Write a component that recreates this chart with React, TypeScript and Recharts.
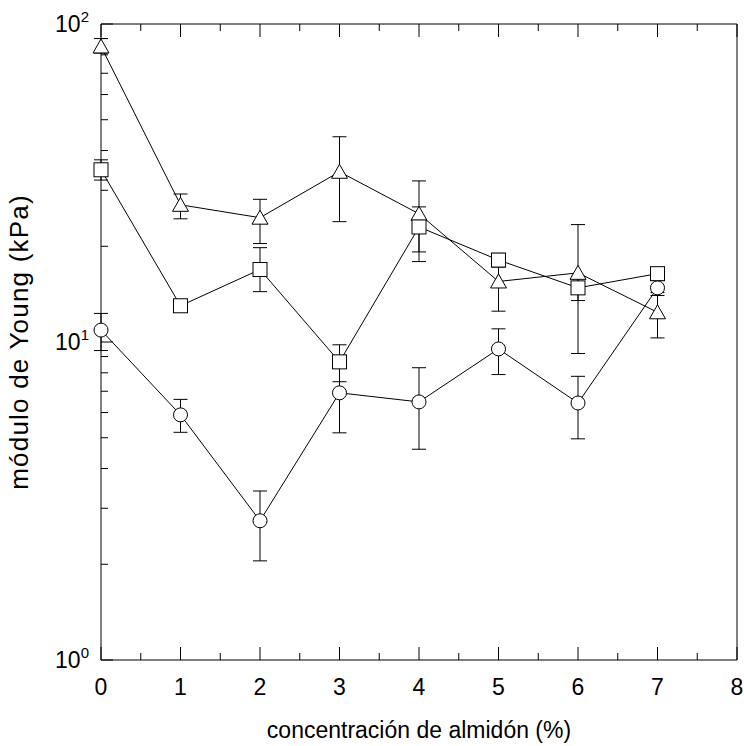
import React from 'react';
import { ComposedChart, Line, XAxis, YAxis, ErrorBar, Label } from 'recharts';

const conc = [0, 1, 2, 3, 4, 5, 6, 7];

const triVals = [85, 27, 24.6, 34.3, 25.3, 15.5, 16.5, 12.4];
const triLow = [81, 24.4, 20.4, 23.9, 19.2, 12.5, 9.2, 10.3];
const triHigh = [90, 29.2, 28.1, 44.2, 32.1, 18.5, 23.4, 14.3];

const sqVals = [34.8, 13.0, 16.9, 8.66, 23.0, 18.1, 14.8, 16.4];
const sqLow = [32.3, 12.6, 14.4, 7.5, 17.9, 17.2, 13.5, 15.9];
const sqHigh = [37.4, 13.4, 19.8, 9.8, 26.6, 19.0, 16.1, 16.9];

const cirVals = [10.9, 5.9, 2.74, 6.92, 6.48, 9.51, 6.43, 14.8];
const cirLow = [9.4, 5.2, 2.05, 5.18, 4.6, 7.9, 4.96, 14.0];
const cirHigh = [12.3, 6.6, 3.4, 8.6, 8.3, 11.0, 7.8, 15.6];

const xTicks = [0, 0.5, 1, 1.5, 2, 2.5, 3, 3.5, 4, 4.5, 5, 5.5, 6, 6.5, 7, 7.5, 8];
const yTicks = [1, 2, 3, 4, 5, 6, 7, 8, 9, 10, 20, 30, 40, 50, 60, 70, 80, 90, 100];
const yMajor: Record<number, string> = { 1: '0', 10: '1', 100: '2' };

const xTitle = 'concentración de almidón (%)';
const yTitle = 'módulo de Young (kPa)';

const data = conc.map((c, i) => ({
  conc: c,
  tri: triVals[i],
  triErr: [triVals[i] - triLow[i], triHigh[i] - triVals[i]],
  sq: sqVals[i],
  sqErr: [sqVals[i] - sqLow[i], sqHigh[i] - sqVals[i]],
  cir: cirVals[i],
  cirErr: [cirVals[i] - cirLow[i], cirHigh[i] - cirVals[i]],
}));

const FONT = '"Liberation Sans", Arial, Helvetica, sans-serif';

const BottomTick = (props: any) => {
  const { x, y, payload } = props;
  const v = payload.value;
  const major = Number.isInteger(v);
  return (
    <g>
      <line x1={x} y1={y} x2={x} y2={y - (major ? 13 : 7)} stroke="#000" strokeWidth={1} />
      {major && (
        <text x={x} y={y + 35} textAnchor="middle" fontSize={23} fontFamily={FONT} fill="#000">
          {v}
        </text>
      )}
    </g>
  );
};

const TopTick = (props: any) => {
  const { x, y, payload } = props;
  const major = Number.isInteger(payload.value);
  return <line x1={x} y1={y} x2={x} y2={y + (major ? 13 : 7)} stroke="#000" strokeWidth={1} />;
};

const LeftTick = (props: any) => {
  const { x, y, payload } = props;
  const v = payload.value;
  const exp = yMajor[v];
  return (
    <g>
      <line x1={x} y1={y} x2={x + (exp !== undefined ? 12 : 7)} y2={y} stroke="#000" strokeWidth={1} />
      {exp !== undefined && (
        <text x={x - 12} y={y + 8} textAnchor="end" fontSize={23} fontFamily={FONT} fill="#000">
          10
          <tspan dy={-10} fontSize={15}>
            {exp}
          </tspan>
        </text>
      )}
    </g>
  );
};

const RightTick = (props: any) => {
  const { x, y, payload } = props;
  const major = yMajor[payload.value] !== undefined;
  return <line x1={x} y1={y} x2={x - (major ? 12 : 7)} y2={y} stroke="#000" strokeWidth={1} />;
};

const Tri = (props: any) => {
  const { cx, cy } = props;
  if (cx == null || cy == null) return null;
  return (
    <path
      d={`M${cx},${cy - 7.5} L${cx + 8},${cy + 6.5} L${cx - 8},${cy + 6.5} Z`}
      fill="#fff"
      stroke="#000"
      strokeWidth={1}
    />
  );
};

const Sq = (props: any) => {
  const { cx, cy } = props;
  if (cx == null || cy == null) return null;
  return <rect x={cx - 7} y={cy - 7} width={14} height={14} fill="#fff" stroke="#000" strokeWidth={1} />;
};

const Cir = (props: any) => {
  const { cx, cy } = props;
  if (cx == null || cy == null) return null;
  return <circle cx={cx} cy={cy} r={7} fill="#fff" stroke="#000" strokeWidth={1} />;
};

export default function App() {
  return (
    <div style={{ position: 'absolute', left: 0, top: 0, background: '#fff' }}>
      <ComposedChart width={744} height={746} data={data} margin={{ top: 0, left: 0, right: 0, bottom: 0 }}>
        <XAxis
          dataKey="conc"
          type="number"
          domain={[0, 8]}
          ticks={xTicks}
          interval={0}
          height={86}
          tickSize={0}
          tickMargin={0}
          tickLine={false}
          tick={<BottomTick />}
          axisLine={{ stroke: '#000', strokeWidth: 1 }}
        >
          <Label
            content={(p: any) => {
              const vb = p.viewBox || { x: 101, y: 660, width: 636 };
              return (
                <text
                  x={vb.x + vb.width / 2}
                  y={vb.y + 78}
                  textAnchor="middle"
                  fontSize={23}
                  fontFamily={FONT}
                  fill="#000"
                >
                  {xTitle}
                </text>
              );
            }}
          />
        </XAxis>
        <XAxis
          xAxisId="t"
          orientation="top"
          dataKey="conc"
          type="number"
          domain={[0, 8]}
          ticks={xTicks}
          interval={0}
          height={24}
          tickSize={0}
          tickMargin={0}
          tickLine={false}
          tick={<TopTick />}
          axisLine={{ stroke: '#000', strokeWidth: 1 }}
        />
        <YAxis
          scale="log"
          type="number"
          domain={[1, 100]}
          ticks={yTicks}
          interval={0}
          width={101}
          tickSize={0}
          tickMargin={0}
          tickLine={false}
          tick={<LeftTick />}
          axisLine={{ stroke: '#000', strokeWidth: 1 }}
        >
          <Label
            content={(p: any) => {
              const vb = p.viewBox || { x: 0, y: 24, width: 101, height: 636 };
              const cx = vb.x + vb.width - 82;
              const cy = vb.y + vb.height / 2;
              return (
                <text
                  x={cx}
                  y={cy}
                  transform={`rotate(-90, ${cx}, ${cy})`}
                  textAnchor="middle"
                  dominantBaseline="central"
                  fontSize={26}
                  letterSpacing={1.2}
                  fontFamily={FONT}
                  fill="#000"
                >
                  {yTitle}
                </text>
              );
            }}
          />
        </YAxis>
        <YAxis
          yAxisId="r"
          orientation="right"
          scale="log"
          type="number"
          domain={[1, 100]}
          ticks={yTicks}
          interval={0}
          width={7}
          tickSize={0}
          tickMargin={0}
          tickLine={false}
          tick={<RightTick />}
          axisLine={{ stroke: '#000', strokeWidth: 1 }}
        />
        <Line dataKey="cir" stroke="#000" strokeWidth={1} dot={<Cir />} activeDot={false} isAnimationActive={false}>
          <ErrorBar dataKey="cirErr" direction="y" width={7} stroke="#000" strokeWidth={1} />
        </Line>
        <Line dataKey="tri" stroke="#000" strokeWidth={1} dot={<Tri />} activeDot={false} isAnimationActive={false}>
          <ErrorBar dataKey="triErr" direction="y" width={7} stroke="#000" strokeWidth={1} />
        </Line>
        <Line dataKey="sq" stroke="#000" strokeWidth={1} dot={<Sq />} activeDot={false} isAnimationActive={false}>
          <ErrorBar dataKey="sqErr" direction="y" width={7} stroke="#000" strokeWidth={1} />
        </Line>
      </ComposedChart>
    </div>
  );
}
